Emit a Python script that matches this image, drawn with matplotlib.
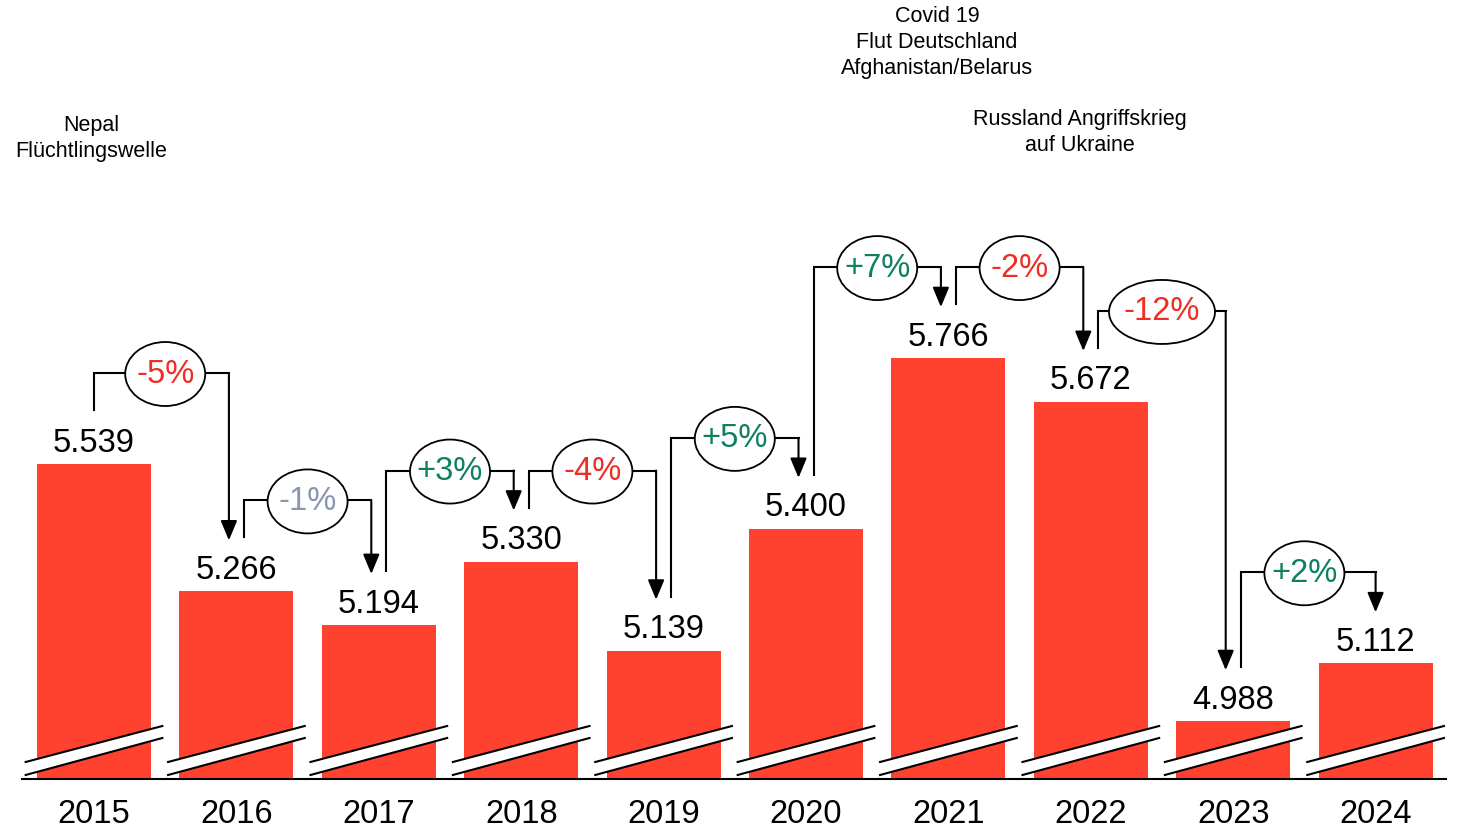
import matplotlib
matplotlib.use("Agg")
import matplotlib.pyplot as plt
from matplotlib.patches import Ellipse, Polygon

years = ["2015", "2016", "2017", "2018", "2019", "2020", "2021", "2022", "2023", "2024"]
values = [5539, 5266, 5194, 5330, 5139, 5400, 5766, 5672, 4988, 5112]

notes = ["Nepal\nFlüchtlingswelle",
         "Covid 19\nFlut Deutschland\nAfghanistan/Belarus",
         "Russland Angriffskrieg\nauf Ukraine"]
note_pos = [(-0.02, 6238), (5.92, 6444), (6.92, 6251)]

BAR = "#FF4130"
RED = "#EE2E24"
GREEN = "#0E8060"
GRAY = "#8A96B0"

plt.rcParams['font.family'] = ['Liberation Sans', 'DejaVu Sans']

# y: 1 px = ~2.143 units, x: 1 px = 1/142.4 slot
base = 4864
upx = 2.143
xpx = 1 / 142.4

fig = plt.figure(figsize=(14.6, 8.28), dpi=100)
ax = fig.add_axes([0, 48 / 828, 1, 780 / 828])
ax.set_xlim(-94 * xpx, (1460 - 94) * xpx)
ax.set_ylim(base, base + 780 * upx)
for s in ax.spines.values():
    s.set_visible(False)
ax.set_yticks([])

x = list(range(len(years)))
ax.bar(x, values, width=0.8, color=BAR, zorder=2)
ax.set_xticks(x)
ax.set_xticklabels(years)
ax.tick_params(axis='x', length=0, pad=14, labelsize=23.5)
ax.plot([-0.505, 9.495], [base, base], color="black", lw=1.5, zorder=5, clip_on=False)

# break marks
for i in x:
    l, r = i - 0.48, i + 0.48
    up = (base + 17 * upx, base + 53 * upx)
    lo = (base + 4 * upx, base + 41 * upx)
    ax.add_patch(Polygon([(l, up[0]), (r, up[1]), (r, lo[1]), (l, lo[0])],
                         closed=True, color="white", zorder=3, lw=0))
    ax.plot([l, r], up, color="black", lw=1.5, zorder=4)
    ax.plot([l, r], lo, color="black", lw=1.5, zorder=4)

# value labels
for i, v in zip(x, values):
    ax.text(i, v + 22 * upx, f"{v:,}".replace(",", "."), ha="center", va="center",
            fontsize=23.5, zorder=6)

# connectors
for i in range(len(values) - 1):
    v0, v1 = values[i], values[i + 1]
    pct = (v1 - v0) / v0 * 100
    lab = f"{round(pct):+d}%"
    if pct > 0:
        col = GREEN
    elif abs(pct) < 1.5:
        col = GRAY
    else:
        col = RED
    x0 = i + (7.5 * xpx if i > 0 else 0)
    x1 = i + 1 - (7.5 * xpx if i + 1 < len(values) - 1 else 0)
    ylev = max(v0, v1) + 91 * upx
    y0 = v0 + 54 * upx
    y1 = v1 + 51 * upx
    ax.plot([x0, x0, x1], [y0, ylev, ylev], color="black", lw=1.5, zorder=6,
            solid_joinstyle="miter")
    ax.annotate("", xy=(x1, y1), xytext=(x1, ylev),
                arrowprops=dict(arrowstyle="-|>,head_length=1.2,head_width=0.5",
                                color="black", lw=1.5, shrinkA=0, shrinkB=0,
                                mutation_scale=10), zorder=6)
    w = (80 + (len(lab) - 3) * 26) * xpx
    cx = i + 0.5
    ax.add_patch(Ellipse((cx, ylev - 1 * upx), w, 64 * upx, facecolor="white",
                         edgecolor="black", lw=1.3, zorder=7))
    ax.text(cx, ylev, lab, ha="center", va="center", fontsize=23.5, color=col, zorder=8)

for t, (nx, ny) in zip(notes, note_pos):
    ax.text(nx, ny, t, ha="center", va="center", fontsize=15.5, linespacing=1.32,
            multialignment="center")

fig.savefig("out.png", dpi=100)
